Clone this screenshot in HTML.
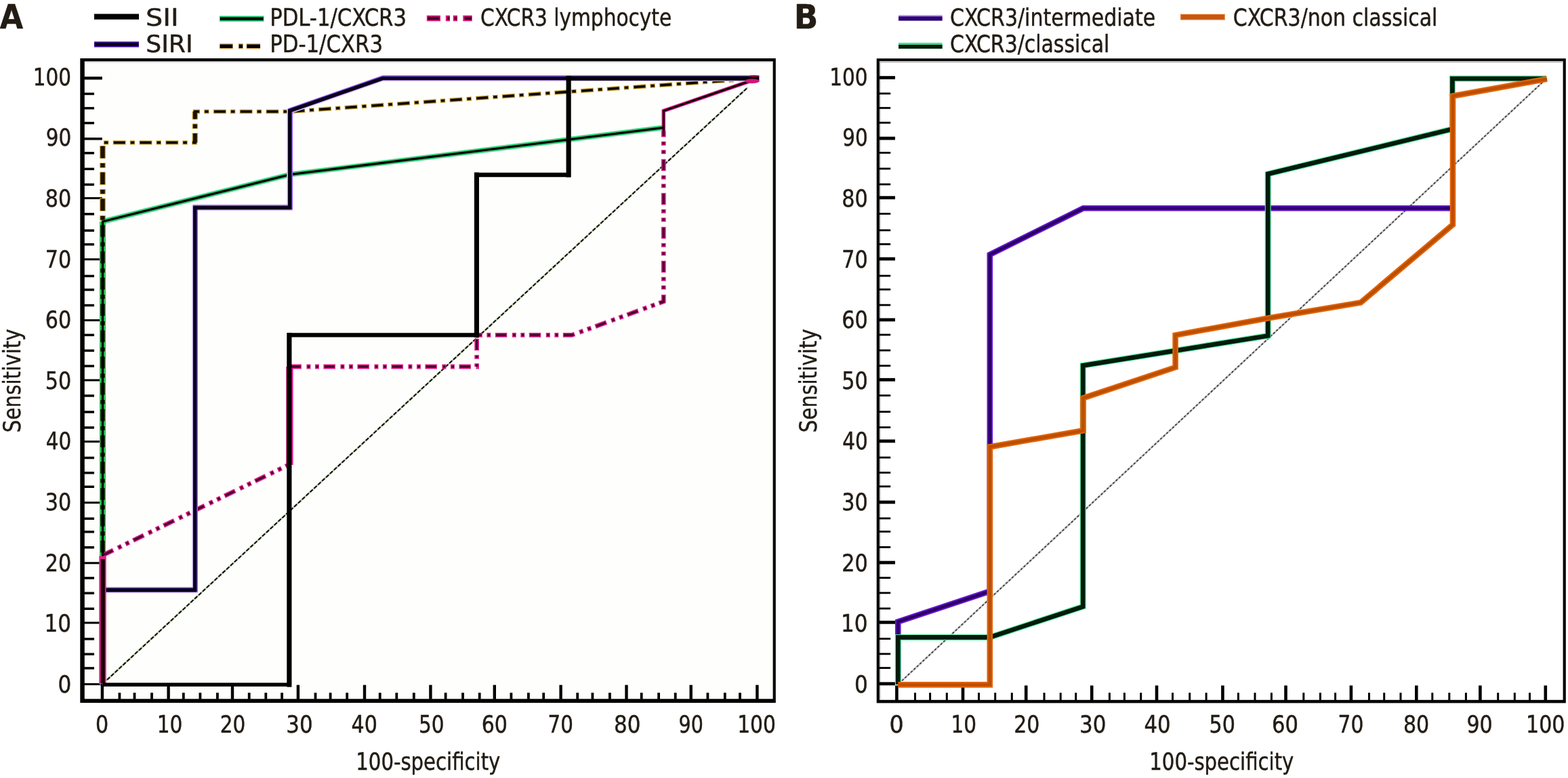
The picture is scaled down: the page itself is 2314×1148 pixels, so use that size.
<!DOCTYPE html>
<html lang="en">
<head>
<meta charset="utf-8">
<title>ROC curves</title>
<style>
html,body{margin:0;padding:0;background:#fff;}
svg{display:block;}
text{font-family:"DejaVu Sans Condensed", "DejaVu Sans", "Liberation Sans", sans-serif;fill:#221c14;stroke:#221c14;stroke-width:0.45px;stroke-linejoin:round;}
</style>
</head>
<body>
<svg width="2314" height="1148" viewBox="0 0 2314 1148">
<rect x="0" y="0" width="2314" height="1148" fill="#ffffff"/>
<g id="axes">
<rect x="118.3" y="86.1" width="1026.5" height="951.0" fill="#000"/>
<rect x="124.8" y="90.5" width="1015.8" height="940.8" fill="#fefefc"/>
<rect x="1293.7" y="86.3" width="1017.1" height="951.1" fill="#000"/>
<rect x="1297.9" y="90.2" width="1008.7" height="942.6" fill="#ffffff"/>
<rect x="124.8" y="91.3" width="1015.8" height="1.4" fill="#dedede"/>
<rect x="1297.9" y="90.2" width="1008.7" height="2.2" fill="#b9b9b9"/>
<rect x="1297.9" y="90.2" width="1.6" height="942.6" fill="#b9b9b9"/>
<rect x="124.3" y="113.1" width="26.5" height="4.4" fill="#000"/>
<rect x="124.3" y="203.0" width="26.5" height="3.6" fill="#000"/>
<rect x="124.3" y="290.9" width="26.5" height="3.0" fill="#000"/>
<rect x="124.3" y="381.2" width="26.5" height="3.0" fill="#000"/>
<rect x="124.3" y="471.1" width="26.5" height="3.0" fill="#000"/>
<rect x="124.3" y="559.5" width="26.5" height="3.0" fill="#000"/>
<rect x="124.3" y="650.1" width="26.5" height="3.0" fill="#000"/>
<rect x="124.3" y="740.2" width="26.5" height="3.0" fill="#000"/>
<rect x="124.3" y="829.3" width="26.5" height="3.0" fill="#000"/>
<rect x="124.3" y="917.5" width="26.5" height="3.0" fill="#000"/>
<rect x="124.3" y="1008.1" width="26.5" height="3.0" fill="#000"/>
<rect x="124.3" y="136.7" width="14.7" height="3.5" fill="#000"/>
<rect x="124.3" y="157.9" width="14.7" height="3.5" fill="#000"/>
<rect x="124.3" y="179.8" width="14.7" height="3.5" fill="#000"/>
<rect x="124.3" y="224.1" width="14.7" height="3.5" fill="#000"/>
<rect x="124.3" y="247.6" width="14.7" height="3.5" fill="#000"/>
<rect x="124.3" y="270.6" width="14.7" height="3.5" fill="#000"/>
<rect x="124.3" y="314.1" width="14.7" height="3.5" fill="#000"/>
<rect x="124.3" y="338.4" width="14.7" height="3.5" fill="#000"/>
<rect x="124.3" y="358.9" width="14.7" height="3.5" fill="#000"/>
<rect x="124.3" y="405.6" width="14.7" height="3.5" fill="#000"/>
<rect x="124.3" y="425.8" width="14.7" height="3.5" fill="#000"/>
<rect x="124.3" y="448.8" width="14.7" height="3.5" fill="#000"/>
<rect x="124.3" y="492.6" width="14.7" height="3.5" fill="#000"/>
<rect x="124.3" y="515.6" width="14.7" height="3.5" fill="#000"/>
<rect x="124.3" y="538.4" width="14.7" height="3.5" fill="#000"/>
<rect x="124.3" y="582.2" width="14.7" height="3.5" fill="#000"/>
<rect x="124.3" y="606.2" width="14.7" height="3.5" fill="#000"/>
<rect x="124.3" y="629.2" width="14.7" height="3.5" fill="#000"/>
<rect x="124.3" y="673.8" width="14.7" height="3.5" fill="#000"/>
<rect x="124.3" y="696.0" width="14.7" height="3.5" fill="#000"/>
<rect x="124.3" y="716.5" width="14.7" height="3.5" fill="#000"/>
<rect x="124.3" y="763.5" width="14.7" height="3.5" fill="#000"/>
<rect x="124.3" y="783.0" width="14.7" height="3.5" fill="#000"/>
<rect x="124.3" y="806.0" width="14.7" height="3.5" fill="#000"/>
<rect x="124.3" y="851.2" width="14.7" height="3.5" fill="#000"/>
<rect x="124.3" y="873.5" width="14.7" height="3.5" fill="#000"/>
<rect x="124.3" y="896.5" width="14.7" height="3.5" fill="#000"/>
<rect x="124.3" y="941.1" width="14.7" height="3.5" fill="#000"/>
<rect x="124.3" y="963.5" width="14.7" height="3.5" fill="#000"/>
<rect x="124.3" y="984.2" width="14.7" height="3.5" fill="#000"/>
<rect x="148.7" y="1010.7" width="4.4" height="21.1" fill="#000"/>
<rect x="246.4" y="1010.7" width="4.4" height="21.1" fill="#000"/>
<rect x="340.8" y="1010.7" width="4.4" height="21.1" fill="#000"/>
<rect x="437.7" y="1010.7" width="4.4" height="21.1" fill="#000"/>
<rect x="535.8" y="1010.7" width="4.4" height="21.1" fill="#000"/>
<rect x="633.2" y="1010.7" width="4.4" height="21.1" fill="#000"/>
<rect x="727.6" y="1010.7" width="4.4" height="21.1" fill="#000"/>
<rect x="825.4" y="1010.7" width="4.4" height="21.1" fill="#000"/>
<rect x="922.3" y="1010.7" width="4.4" height="21.1" fill="#000"/>
<rect x="1017.5" y="1010.7" width="4.4" height="21.1" fill="#000"/>
<rect x="1115.2" y="1010.7" width="4.4" height="21.1" fill="#000"/>
<rect x="174.5" y="1022.2" width="3.8" height="9.6" fill="#000"/>
<rect x="196.6" y="1022.2" width="3.8" height="9.6" fill="#000"/>
<rect x="222.1" y="1022.2" width="3.8" height="9.6" fill="#000"/>
<rect x="268.9" y="1022.2" width="3.8" height="9.6" fill="#000"/>
<rect x="293.5" y="1022.2" width="3.8" height="9.6" fill="#000"/>
<rect x="319.0" y="1022.2" width="3.8" height="9.6" fill="#000"/>
<rect x="365.8" y="1022.2" width="3.8" height="9.6" fill="#000"/>
<rect x="390.4" y="1022.2" width="3.8" height="9.6" fill="#000"/>
<rect x="414.2" y="1022.2" width="3.8" height="9.6" fill="#000"/>
<rect x="463.6" y="1022.2" width="3.8" height="9.6" fill="#000"/>
<rect x="485.7" y="1022.2" width="3.8" height="9.6" fill="#000"/>
<rect x="510.3" y="1022.2" width="3.8" height="9.6" fill="#000"/>
<rect x="558.8" y="1022.2" width="3.8" height="9.6" fill="#000"/>
<rect x="583.4" y="1022.2" width="3.8" height="9.6" fill="#000"/>
<rect x="608.9" y="1022.2" width="3.8" height="9.6" fill="#000"/>
<rect x="655.7" y="1022.2" width="3.8" height="9.6" fill="#000"/>
<rect x="681.1" y="1022.2" width="3.8" height="9.6" fill="#000"/>
<rect x="705.8" y="1022.2" width="3.8" height="9.6" fill="#000"/>
<rect x="752.5" y="1022.2" width="3.8" height="9.6" fill="#000"/>
<rect x="778.0" y="1022.2" width="3.8" height="9.6" fill="#000"/>
<rect x="800.3" y="1022.2" width="3.8" height="9.6" fill="#000"/>
<rect x="850.3" y="1022.2" width="3.8" height="9.6" fill="#000"/>
<rect x="872.5" y="1022.2" width="3.8" height="9.6" fill="#000"/>
<rect x="898.0" y="1022.2" width="3.8" height="9.6" fill="#000"/>
<rect x="944.8" y="1022.2" width="3.8" height="9.6" fill="#000"/>
<rect x="970.2" y="1022.2" width="3.8" height="9.6" fill="#000"/>
<rect x="994.8" y="1022.2" width="3.8" height="9.6" fill="#000"/>
<rect x="1042.5" y="1022.2" width="3.8" height="9.6" fill="#000"/>
<rect x="1067.9" y="1022.2" width="3.8" height="9.6" fill="#000"/>
<rect x="1090.1" y="1022.2" width="3.8" height="9.6" fill="#000"/>
<rect x="1297.4" y="112.2" width="23.6" height="4.8" fill="#000"/>
<rect x="1297.4" y="201.7" width="23.6" height="4.8" fill="#000"/>
<rect x="1297.4" y="289.3" width="23.6" height="4.8" fill="#000"/>
<rect x="1297.4" y="379.6" width="23.6" height="4.8" fill="#000"/>
<rect x="1297.4" y="469.5" width="23.6" height="4.8" fill="#000"/>
<rect x="1297.4" y="557.9" width="23.6" height="4.8" fill="#000"/>
<rect x="1297.4" y="648.5" width="23.6" height="4.8" fill="#000"/>
<rect x="1297.4" y="738.6" width="23.6" height="4.8" fill="#000"/>
<rect x="1297.4" y="827.7" width="23.6" height="4.8" fill="#000"/>
<rect x="1297.4" y="915.9" width="23.6" height="4.8" fill="#000"/>
<rect x="1297.4" y="1006.5" width="23.6" height="4.8" fill="#000"/>
<rect x="1297.4" y="136.6" width="16.8" height="2.8" fill="#000"/>
<rect x="1297.4" y="157.9" width="16.8" height="2.8" fill="#000"/>
<rect x="1297.4" y="179.7" width="16.8" height="2.8" fill="#000"/>
<rect x="1297.4" y="224.0" width="16.8" height="2.8" fill="#000"/>
<rect x="1297.4" y="247.5" width="16.8" height="2.8" fill="#000"/>
<rect x="1297.4" y="270.6" width="16.8" height="2.8" fill="#000"/>
<rect x="1297.4" y="314.0" width="16.8" height="2.8" fill="#000"/>
<rect x="1297.4" y="338.4" width="16.8" height="2.8" fill="#000"/>
<rect x="1297.4" y="358.9" width="16.8" height="2.8" fill="#000"/>
<rect x="1297.4" y="405.6" width="16.8" height="2.8" fill="#000"/>
<rect x="1297.4" y="425.7" width="16.8" height="2.8" fill="#000"/>
<rect x="1297.4" y="448.7" width="16.8" height="2.8" fill="#000"/>
<rect x="1297.4" y="492.6" width="16.8" height="2.8" fill="#000"/>
<rect x="1297.4" y="515.6" width="16.8" height="2.8" fill="#000"/>
<rect x="1297.4" y="538.3" width="16.8" height="2.8" fill="#000"/>
<rect x="1297.4" y="582.2" width="16.8" height="2.8" fill="#000"/>
<rect x="1297.4" y="606.2" width="16.8" height="2.8" fill="#000"/>
<rect x="1297.4" y="629.2" width="16.8" height="2.8" fill="#000"/>
<rect x="1297.4" y="673.7" width="16.8" height="2.8" fill="#000"/>
<rect x="1297.4" y="696.0" width="16.8" height="2.8" fill="#000"/>
<rect x="1297.4" y="716.4" width="16.8" height="2.8" fill="#000"/>
<rect x="1297.4" y="763.5" width="16.8" height="2.8" fill="#000"/>
<rect x="1297.4" y="783.0" width="16.8" height="2.8" fill="#000"/>
<rect x="1297.4" y="806.0" width="16.8" height="2.8" fill="#000"/>
<rect x="1297.4" y="851.2" width="16.8" height="2.8" fill="#000"/>
<rect x="1297.4" y="873.5" width="16.8" height="2.8" fill="#000"/>
<rect x="1297.4" y="896.5" width="16.8" height="2.8" fill="#000"/>
<rect x="1297.4" y="941.1" width="16.8" height="2.8" fill="#000"/>
<rect x="1297.4" y="963.5" width="16.8" height="2.8" fill="#000"/>
<rect x="1297.4" y="984.2" width="16.8" height="2.8" fill="#000"/>
<rect x="1321.1" y="1011.5" width="4.6" height="21.8" fill="#000"/>
<rect x="1418.7" y="1011.5" width="4.6" height="21.8" fill="#000"/>
<rect x="1511.9" y="1011.5" width="4.6" height="21.8" fill="#000"/>
<rect x="1608.9" y="1011.5" width="4.6" height="21.8" fill="#000"/>
<rect x="1704.7" y="1011.5" width="4.6" height="21.8" fill="#000"/>
<rect x="1802.1" y="1011.5" width="4.6" height="21.8" fill="#000"/>
<rect x="1895.2" y="1011.5" width="4.6" height="21.8" fill="#000"/>
<rect x="1991.6" y="1011.5" width="4.6" height="21.8" fill="#000"/>
<rect x="2088.0" y="1011.5" width="4.6" height="21.8" fill="#000"/>
<rect x="2182.1" y="1011.5" width="4.6" height="21.8" fill="#000"/>
<rect x="2278.5" y="1011.5" width="4.6" height="21.8" fill="#000"/>
<rect x="1349.0" y="1022.2" width="3.0" height="11.1" fill="#000"/>
<rect x="1371.1" y="1022.2" width="3.0" height="11.1" fill="#000"/>
<rect x="1395.8" y="1022.2" width="3.0" height="11.1" fill="#000"/>
<rect x="1443.0" y="1022.2" width="3.0" height="11.1" fill="#000"/>
<rect x="1467.2" y="1022.2" width="3.0" height="11.1" fill="#000"/>
<rect x="1491.8" y="1022.2" width="3.0" height="11.1" fill="#000"/>
<rect x="1539.5" y="1022.2" width="3.0" height="11.1" fill="#000"/>
<rect x="1563.7" y="1022.2" width="3.0" height="11.1" fill="#000"/>
<rect x="1586.2" y="1022.2" width="3.0" height="11.1" fill="#000"/>
<rect x="1635.9" y="1022.2" width="3.0" height="11.1" fill="#000"/>
<rect x="1657.9" y="1022.2" width="3.0" height="11.1" fill="#000"/>
<rect x="1682.2" y="1022.2" width="3.0" height="11.1" fill="#000"/>
<rect x="1729.0" y="1022.2" width="3.0" height="11.1" fill="#000"/>
<rect x="1754.2" y="1022.2" width="3.0" height="11.1" fill="#000"/>
<rect x="1778.6" y="1022.2" width="3.0" height="11.1" fill="#000"/>
<rect x="1825.9" y="1022.2" width="3.0" height="11.1" fill="#000"/>
<rect x="1850.5" y="1022.2" width="3.0" height="11.1" fill="#000"/>
<rect x="1874.9" y="1022.2" width="3.0" height="11.1" fill="#000"/>
<rect x="1922.3" y="1022.2" width="3.0" height="11.1" fill="#000"/>
<rect x="1946.9" y="1022.2" width="3.0" height="11.1" fill="#000"/>
<rect x="1969.1" y="1022.2" width="3.0" height="11.1" fill="#000"/>
<rect x="2019.0" y="1022.2" width="3.0" height="11.1" fill="#000"/>
<rect x="2041.2" y="1022.2" width="3.0" height="11.1" fill="#000"/>
<rect x="2065.5" y="1022.2" width="3.0" height="11.1" fill="#000"/>
<rect x="2112.3" y="1022.2" width="3.0" height="11.1" fill="#000"/>
<rect x="2137.3" y="1022.2" width="3.0" height="11.1" fill="#000"/>
<rect x="2161.9" y="1022.2" width="3.0" height="11.1" fill="#000"/>
<rect x="2209.2" y="1022.2" width="3.0" height="11.1" fill="#000"/>
<rect x="2233.8" y="1022.2" width="3.0" height="11.1" fill="#000"/>
<rect x="2256.0" y="1022.2" width="3.0" height="11.1" fill="#000"/>
</g>
<g id="curves">
<polyline points="157.0,1004.0 1103.3,129.2" fill="none" stroke="#b0c79a" stroke-width="2.4" stroke-linecap="butt" stroke-linejoin="miter"/>
<polyline points="158.0,1003.1 1103.3,129.2" fill="none" stroke="#111" stroke-width="2.1" stroke-linecap="butt" stroke-linejoin="miter" stroke-dasharray="5.5 2.5"/>
<polyline points="151.5,1010.0 151.5,210.4 287.8,210.4 287.8,164.6 427.6,164.6 1117.4,115.6" fill="none" stroke="#d2aa40" stroke-width="6.3" stroke-linecap="butt" stroke-linejoin="miter" stroke-dasharray="19 6 7.5 6.3"/>
<polyline points="151.5,1010.0 151.5,210.4" fill="none" stroke="#d2aa40" stroke-width="9.0" stroke-linecap="butt" stroke-linejoin="miter" stroke-dasharray="19 6 7.5 6.3"/>
<polyline points="287.8,210.4 287.8,164.6" fill="none" stroke="#d2aa40" stroke-width="8.6" stroke-linecap="butt" stroke-linejoin="miter" stroke-dasharray="19 6 7.5 6.3" stroke-dashoffset="4.7"/>
<polyline points="151.5,327.0 427.6,257.6 979.3,188.3" fill="none" stroke="#34d27c" stroke-width="7.6" stroke-linecap="butt" stroke-linejoin="miter"/>
<polyline points="151.5,1010.0 151.5,327.0" fill="none" stroke="#35c458" stroke-width="9.2" stroke-linecap="butt" stroke-linejoin="miter"/>
<polyline points="151.5,819.4 427.4,685.2" fill="none" stroke="#e2208c" stroke-width="6.8" stroke-linecap="butt" stroke-linejoin="miter" stroke-dasharray="17.5 7.5 6 6.5 6 6.5"/>
<polyline points="427.4,686.0 427.4,541.0" fill="none" stroke="#e2208c" stroke-width="10.4" stroke-linecap="butt" stroke-linejoin="miter"/>
<polyline points="427.4,541.0 703.6,541.0 703.6,494.4 844.0,494.4 979.3,444.9 979.3,193.0" fill="none" stroke="#e2208c" stroke-width="6.8" stroke-linecap="butt" stroke-linejoin="miter" stroke-dasharray="17.5 7.5 6 6.5 6 6.5"/>
<polyline points="979.3,193.0 979.3,163.6 1117.4,116.0" fill="none" stroke="#e2208c" stroke-width="5.6" stroke-linecap="butt" stroke-linejoin="miter"/>
<polyline points="151.5,1010.0 151.5,210.4 287.8,210.4 287.8,164.6 427.6,164.6 1117.4,115.6" fill="none" stroke="#4a380c" stroke-width="4.2" stroke-linecap="butt" stroke-linejoin="miter" stroke-dasharray="17.4 7.6 5.9 7.9" stroke-dashoffset="-0.8"/>
<polyline points="151.5,1010.0 151.5,210.4 287.8,210.4 287.8,164.6 427.6,164.6 1117.4,115.6" fill="none" stroke="#000" stroke-width="2.7" stroke-linecap="butt" stroke-linejoin="miter" stroke-dasharray="16 9 4.6 9.2" stroke-dashoffset="-1.5"/>
<polyline points="151.5,1010.0 151.5,210.4" fill="none" stroke="#1a1204" stroke-width="6.4" stroke-linecap="butt" stroke-linejoin="miter" stroke-dasharray="17.4 7.6 5.9 7.9" stroke-dashoffset="-0.8"/>
<polyline points="287.8,210.4 287.8,164.6" fill="none" stroke="#1a1204" stroke-width="6.0" stroke-linecap="butt" stroke-linejoin="miter" stroke-dasharray="17.4 7.6 5.9 7.9" stroke-dashoffset="3.9"/>
<polyline points="151.5,1010.0 151.5,327.0 427.6,257.6 979.3,188.3" fill="none" stroke="#000" stroke-width="3.3" stroke-linecap="butt" stroke-linejoin="miter"/>
<polyline points="151.5,819.4 427.4,685.2" fill="none" stroke="#4a0630" stroke-width="3.6" stroke-linecap="butt" stroke-linejoin="miter" stroke-dasharray="15 10 3.6 9 3.6 8.8" stroke-dashoffset="-1.25"/>
<polyline points="427.4,541.0 703.6,541.0 703.6,494.4 844.0,494.4 979.3,444.9 979.3,193.0" fill="none" stroke="#4a0630" stroke-width="3.6" stroke-linecap="butt" stroke-linejoin="miter" stroke-dasharray="15 10 3.6 9 3.6 8.8" stroke-dashoffset="-1.25"/>
<polyline points="979.3,193.0 979.3,163.6 1117.4,116.0" fill="none" stroke="#0a0004" stroke-width="3.0" stroke-linecap="butt" stroke-linejoin="miter"/>
<polyline points="151.5,1010.0 151.5,870.8 287.6,870.8 287.6,306.6 427.6,306.6 427.6,163.5 564.6,115.6 1119.8,115.6" fill="none" stroke="#dcc8fc" stroke-width="8.8" stroke-linecap="butt" stroke-linejoin="miter"/>
<g transform="translate(0.8,-0.8)"><polyline points="151.5,1010.0 151.5,870.8 287.6,870.8 287.6,306.6 427.6,306.6 427.6,163.5 564.6,115.6 1119.8,115.6" fill="none" stroke="#8a4cee" stroke-width="6.9" stroke-linecap="butt" stroke-linejoin="miter"/></g>
<polyline points="151.5,1010.0 151.5,870.8 287.6,870.8 287.6,306.6 427.6,306.6 427.6,163.5 564.6,115.6 1119.8,115.6" fill="none" stroke="#07001a" stroke-width="5.4" stroke-linecap="butt" stroke-linejoin="miter"/>
<polyline points="151.5,1009.0 151.5,820.5" fill="none" stroke="#e2208c" stroke-width="10.4" stroke-linecap="butt" stroke-linejoin="miter"/>
<polyline points="151.8,1008.0 151.8,825.0" fill="none" stroke="#1c0008" stroke-width="6.2" stroke-linecap="butt" stroke-linejoin="miter"/>
<polyline points="151.5,1010.2 426.9,1010.2" fill="none" stroke="#000" stroke-width="5.6" stroke-linecap="butt" stroke-linejoin="miter"/>
<polyline points="426.9,1010.2 426.9,494.4 703.4,494.4 703.4,258.0 839.1,258.0 839.1,115.6 1119.8,115.6" fill="none" stroke="#000" stroke-width="6.4" stroke-linecap="butt" stroke-linejoin="miter"/>
<polyline points="426.9,1010.2 426.9,494.4" fill="none" stroke="#000" stroke-width="7.0" stroke-linecap="square" stroke-linejoin="miter"/>
<polyline points="703.4,494.4 703.4,258.0" fill="none" stroke="#000" stroke-width="7.0" stroke-linecap="square" stroke-linejoin="miter"/>
<polyline points="839.1,258.0 839.1,115.6" fill="none" stroke="#000" stroke-width="7.0" stroke-linecap="square" stroke-linejoin="miter"/>
<ellipse cx="1110" cy="119.6" rx="11" ry="3.4" fill="#d0167a"/>
<ellipse cx="1113" cy="112.2" rx="7" ry="1.4" fill="#a01040"/>
<polyline points="1331.0,1004.5 2279.0,119.0" fill="none" stroke="#c4c4c4" stroke-width="2.8" stroke-linecap="butt" stroke-linejoin="miter"/>
<polyline points="1331.0,1004.5 2279.0,119.0" fill="none" stroke="#333" stroke-width="1.6" stroke-linecap="butt" stroke-linejoin="miter" stroke-dasharray="3.2 2.8"/>
<polyline points="1325.3,1010.0 1325.3,917.4 1458.0,873.4 1460.8,873.4 1460.8,375.7 1598.5,307.3 2142.0,307.3" fill="none" stroke="#6414d0" stroke-width="8.6" stroke-linecap="butt" stroke-linejoin="miter"/>
<polyline points="1325.3,1010.0 1325.3,917.4 1458.0,873.4 1460.8,873.4 1460.8,375.7 1598.5,307.3 2142.0,307.3" fill="none" stroke="#2a0062" stroke-width="4.4" stroke-linecap="butt" stroke-linejoin="miter"/>
<polyline points="1325.3,1010.0 1325.3,940.4 1460.6,940.4 1598.2,895.1 1598.2,539.4 1871.2,495.4 1871.2,256.7 2143.4,190.4 2143.4,116.0 2282.0,116.0" fill="none" stroke="#52e69c" stroke-width="9.0" stroke-linecap="butt" stroke-linejoin="miter"/>
<polyline points="1325.3,1010.0 1325.3,940.4 1460.6,940.4 1598.2,895.1 1598.2,539.4 1871.2,495.4 1871.2,256.7 2143.4,190.4 2143.4,116.0 2282.0,116.0" fill="none" stroke="#021a0c" stroke-width="6.6" stroke-linecap="butt" stroke-linejoin="miter"/>
<polyline points="1325.3,1010.4 1460.8,1010.4 1460.8,659.4 1598.5,635.3 1598.5,587.3 1734.6,542.0 1734.6,494.5 1871.2,469.5 2008.0,446.5 2144.0,331.5 2144.0,141.7 2283.0,116.6" fill="none" stroke="#e06408" stroke-width="8.6" stroke-linecap="butt" stroke-linejoin="miter"/>
<polyline points="1325.3,1010.4 1460.8,1010.4 1460.8,659.4 1598.5,635.3 1598.5,587.3 1734.6,542.0 1734.6,494.5 1871.2,469.5 2008.0,446.5 2144.0,331.5 2144.0,141.7 2283.0,116.6" fill="none" stroke="#bc4e02" stroke-width="4.4" stroke-linecap="butt" stroke-linejoin="miter"/>
</g>
<g id="legend-lines">
<line x1="139" y1="24.7" x2="205" y2="24.7" stroke="#000" stroke-width="8.2"/>
<line x1="139" y1="65.5" x2="205" y2="65.5" stroke="#5a22d0" stroke-width="8.4"/>
<line x1="139.5" y1="65.5" x2="204.5" y2="65.5" stroke="#07000f" stroke-width="5.4"/>
<line x1="324" y1="27.6" x2="389.4" y2="27.6" stroke="#19c774" stroke-width="8.4"/>
<line x1="324.8" y1="27.6" x2="388.6" y2="27.6" stroke="#000" stroke-width="4.4"/>
<line x1="324.1" y1="68.3" x2="384.1" y2="68.3" stroke="#e2b56a" stroke-width="8.4" stroke-dasharray="19.6 8.1 6.9 4.8 21"/>
<line x1="324.5" y1="68.3" x2="384" y2="68.3" stroke="#000" stroke-width="5.6" stroke-dasharray="18.8 9.3 5.6 6.1 20"/>
<line x1="629.8" y1="27" x2="696.7" y2="27" stroke="#e0147f" stroke-width="8.6" stroke-dasharray="20.2 7.8 6.2 4.7 6.3 8.3 13.4"/>
<line x1="631.3" y1="27" x2="696" y2="27" stroke="#3a0020" stroke-width="4.6" stroke-dasharray="17.2 11.3 3.6 7.3 3.6 11.2 10.6"/>
<line x1="1326" y1="26.4" x2="1390.6" y2="26.4" stroke="#b88af6" stroke-width="8.4"/>
<line x1="1326" y1="27.4" x2="1390.6" y2="27.4" stroke="#2c0670" stroke-width="6.2"/>
<line x1="1326" y1="67.4" x2="1390.6" y2="67.4" stroke="#3fe48c" stroke-width="8.6"/>
<line x1="1326" y1="68.9" x2="1390.6" y2="68.9" stroke="#04180c" stroke-width="5.6"/>
<line x1="1742" y1="25.2" x2="1807.8" y2="25.2" stroke="#e0732c" stroke-width="8.8"/>
<line x1="1743.5" y1="25.2" x2="1806.3" y2="25.2" stroke="#c5560f" stroke-width="6.2"/>
</g>
<g id="labels">
<text transform="translate(-0.3,42.2) scale(1.0088,1)" font-size="49" font-weight="bold">A</text>
<text transform="translate(1171.8,42.2) scale(1.0593,1)" font-size="49" font-weight="bold">B</text>
<text transform="translate(215.0,38.1) scale(1.2604,1)" font-size="35">SII</text>
<text transform="translate(215.2,76.5) scale(1.1487,1)" font-size="35">SIRI</text>
<text transform="translate(398.2,38.1) scale(0.9745,1)" font-size="35">PDL-1/CXCR3</text>
<text transform="translate(398.2,76.5) scale(0.9772,1)" font-size="35">PD-1/CXR3</text>
<text transform="translate(709.1,38.1) scale(0.9413,1)" font-size="35">CXCR3 lymphocyte</text>
<text transform="translate(1402.0,38.1) scale(0.9534,1)" font-size="35">CXCR3/intermediate</text>
<text transform="translate(1402.0,77.0) scale(0.9506,1)" font-size="35">CXCR3/classical</text>
<text transform="translate(1819.8,38.1) scale(0.9520,1)" font-size="35">CXCR3/non classical</text>
<text transform="translate(525.3,1135.7) scale(0.9257,1)" font-size="35">100-specificity</text>
<text transform="translate(1696.3,1135.7) scale(0.9257,1)" font-size="35">100-specificity</text>
<text transform="translate(141.1,1081.3) scale(0.9563,1)" font-size="35">0</text>
<text transform="translate(231.8,1081.3) scale(0.9392,1)" font-size="35">10</text>
<text transform="translate(324.7,1081.3) scale(0.9353,1)" font-size="35">20</text>
<text transform="translate(422.3,1081.3) scale(0.9798,1)" font-size="35">30</text>
<text transform="translate(518.6,1081.3) scale(0.9560,1)" font-size="35">40</text>
<text transform="translate(617.9,1081.3) scale(0.9353,1)" font-size="35">50</text>
<text transform="translate(710.7,1081.3) scale(0.9548,1)" font-size="35">60</text>
<text transform="translate(808.5,1081.3) scale(0.9326,1)" font-size="35">70</text>
<text transform="translate(906.0,1081.3) scale(0.9825,1)" font-size="35">80</text>
<text transform="translate(1001.6,1081.3) scale(0.9047,1)" font-size="35">90</text>
<text transform="translate(1088.2,1081.3) scale(0.9444,1)" font-size="35">100</text>
<text transform="translate(1312.6,1081.3) scale(1.0562,1)" font-size="35">0</text>
<text transform="translate(1403.5,1081.3) scale(0.9364,1)" font-size="35">10</text>
<text transform="translate(1496.3,1081.3) scale(0.9492,1)" font-size="35">20</text>
<text transform="translate(1593.0,1081.3) scale(0.9825,1)" font-size="35">30</text>
<text transform="translate(1688.5,1081.3) scale(0.9749,1)" font-size="35">40</text>
<text transform="translate(1784.5,1081.3) scale(0.9576,1)" font-size="35">50</text>
<text transform="translate(1877.1,1081.3) scale(0.9714,1)" font-size="35">60</text>
<text transform="translate(1974.5,1081.3) scale(0.9437,1)" font-size="35">70</text>
<text transform="translate(2070.9,1081.3) scale(0.9548,1)" font-size="35">80</text>
<text transform="translate(2164.5,1081.3) scale(0.9533,1)" font-size="35">90</text>
<text transform="translate(2252.1,1081.3) scale(0.9553,1)" font-size="35">100</text>
<text transform="translate(85.4,1021.7) scale(0.9875,1)" font-size="35">0</text>
<text transform="translate(65.6,932.1) scale(0.9877,1)" font-size="35">10</text>
<text transform="translate(66.7,842.5) scale(0.9603,1)" font-size="35">20</text>
<text transform="translate(66.7,752.9) scale(0.9603,1)" font-size="35">30</text>
<text transform="translate(67.7,663.3) scale(0.9344,1)" font-size="35">40</text>
<text transform="translate(66.7,573.7) scale(0.9603,1)" font-size="35">50</text>
<text transform="translate(66.7,484.1) scale(0.9603,1)" font-size="35">60</text>
<text transform="translate(66.7,394.5) scale(0.9603,1)" font-size="35">70</text>
<text transform="translate(66.7,304.9) scale(0.9603,1)" font-size="35">80</text>
<text transform="translate(67.7,215.3) scale(0.9344,1)" font-size="35">90</text>
<text transform="translate(48.8,125.7) scale(0.9372,1)" font-size="35">100</text>
<text transform="translate(1260.9,1021.7) scale(0.9875,1)" font-size="35">0</text>
<text transform="translate(1241.1,932.1) scale(0.9877,1)" font-size="35">10</text>
<text transform="translate(1242.2,842.5) scale(0.9603,1)" font-size="35">20</text>
<text transform="translate(1242.2,752.9) scale(0.9603,1)" font-size="35">30</text>
<text transform="translate(1243.2,663.3) scale(0.9344,1)" font-size="35">40</text>
<text transform="translate(1242.2,573.7) scale(0.9603,1)" font-size="35">50</text>
<text transform="translate(1242.2,484.1) scale(0.9603,1)" font-size="35">60</text>
<text transform="translate(1242.2,394.5) scale(0.9603,1)" font-size="35">70</text>
<text transform="translate(1242.2,304.9) scale(0.9603,1)" font-size="35">80</text>
<text transform="translate(1243.2,215.3) scale(0.9344,1)" font-size="35">90</text>
<text transform="translate(1224.3,125.7) scale(0.9372,1)" font-size="35">100</text>
<text transform="translate(29.8,638.2) rotate(-90) scale(0.9337,1)" font-size="35">Sensitivity</text>
<text transform="translate(1205.1,638.2) rotate(-90) scale(0.9337,1)" font-size="35">Sensitivity</text>
</g>
</svg>
</body>
</html>
